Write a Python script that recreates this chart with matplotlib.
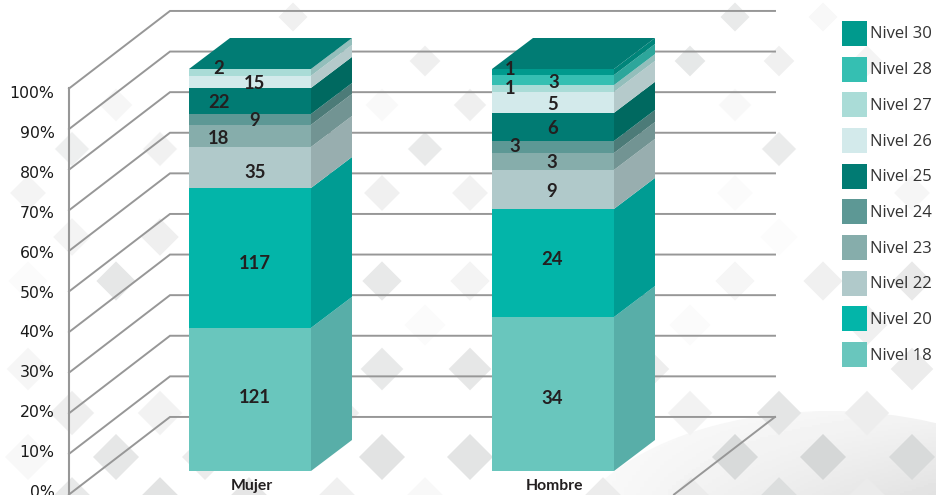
# -*- coding: utf-8 -*-
import numpy as np
import matplotlib
matplotlib.use('Agg')
import matplotlib.pyplot as plt
import matplotlib.patches as patches
import matplotlib.transforms as transforms

CATEGORIES = ['Mujer', 'Hombre']
LEVELS = ['Nivel 18', 'Nivel 20', 'Nivel 22', 'Nivel 23', 'Nivel 24',
          'Nivel 25', 'Nivel 26', 'Nivel 27', 'Nivel 28', 'Nivel 30']

# Printed counts and drawn share (%) per level, bottom to top.
MUJER_COUNTS = [121, 117, 35, 18, 9, 22, 15, 2, None, None]
HOMBRE_COUNTS = [34, 24, 9, 3, 3, 6, 5, 1, 3, 1]
MUJER_PCT = [35.6, 34.8, 10.2, 5.5, 2.7, 6.5, 3.0, 1.7, 0, 0]
HOMBRE_PCT = [38.3, 26.9, 9.7, 4.2, 3.0, 7.0, 5.2, 1.7, 2.5, 1.5]

YTICKS = [0, 10, 20, 30, 40, 50, 60, 70, 80, 90, 100]

FRONT = ['#69c6bd', '#03b5a9', '#b0c9ca', '#86adab', '#5d9895',
         '#017b73', '#d3eaeb', '#aadcd7', '#35bfb2', '#009a8d']
SIDE = ['#58aea8', '#009c93', '#98aeaf', '#729493', '#4c7b78',
        '#006960', '#b5cacb', '#93bebb', '#2da69b', '#00857a']
TOP = '#017c74'

# Label nudges in pixels (dx, dy down), the labels are not centred in the chart.
MUJER_NUDGE = [(5, -2), (5, 6), (5, 5), (-31, 3), (5, 1), (-31, 2), (5, 2), (-31, -4),
               None, None]
HOMBRE_NUDGE = [(-1, 4), (-1, -3), (-1, 2), (-1, 1), (-38, 0), (0, 2), (0, 2),
                (-43, 0), (1, 2), (-43, -3)]

# Background pattern: row y -> (x, gray).
DIAMONDS = {
    17: [(293, '#f0f0f0'), (735, '#e9eaea'), (823, '#f8f8f8')],
    61: [(425, '#efefef'), (690, '#e6e8e8'), (779, '#f0f0f0'), (867, '#f4f4f4')],
    105: [(116, '#f6f6f6'), (382, '#f9f9f9'), (470, '#efefef'), (735, '#f8f8f8')],
    149: [(72, '#eeefef'), (160, '#f1f1f1'), (425, '#e9eaea'), (779, '#eaebeb')],
    193: [(28, '#f4f4f4'), (382, '#f0f0f0'), (470, '#f2f2f2'), (735, '#fbfbfb'),
          (912, '#f6f6f6')],
    237: [(72, '#f4f4f4'), (160, '#efefef'), (779, '#fcfcfc')],
    281: [(28, '#fbfbfb'), (116, '#e6e7e7'), (382, '#e8e9e9'), (470, '#f4f4f4'),
          (735, '#f6f6f6'), (823, '#f0f0f0'), (912, '#e9e9e9')],
    325: [(425, '#fbfbfb'), (690, '#fbfbfb'), (867, '#f0f0f0')],
    369: [(28, '#f6f6f6'), (382, '#e8e9e9'), (470, '#e6e7e7'), (648, '#eeeeee'),
          (912, '#ececec')],
    413: [(72, '#eeeeee'), (160, '#f2f2f2'), (337, '#eeeeee'), (690, '#f2f2f2'),
          (779, '#e4e5e5'), (867, '#ededed')],
    457: [(28, '#f8f8f8'), (116, '#e6e7e7'), (205, '#ececec'), (382, '#e2e3e3'),
          (470, '#e3e4e4'), (735, '#d8dada'), (823, '#d5d7d7'), (912, '#d8dada')],
    501: [(72, '#e8e9e9'), (160, '#e2e3e3'), (249, '#e6e6e6'), (337, '#f0f0f0'),
          (425, '#f8f8f8'), (603, '#ececec'), (691, '#ebebeb'), (779, '#dcdede'),
          (867, '#ebebeb')],
}

FW, FH = 936, 495
GRID = '#979797'
TEXT = '#231f20'

fig = plt.figure(figsize=(FW/100, FH/100), dpi=100, facecolor='white')

# Background and legend, in pixel units.
bg = fig.add_axes([0, 0, 1, 1], zorder=0)
arc = patches.Ellipse((830, 561), 538, 300, transform=bg.transData, fc='none', ec='none')
bg.add_patch(arc)
# shading gets darker to the lower right and fades out to the left
fx = np.linspace(0, 1, 94)[None, :]
fy = np.linspace(0, 1, 42)[:, None]
shade = 0.985 - 0.07*fy*fx - 0.03*fx
im = bg.imshow(shade, cmap='gray', vmin=0, vmax=1, extent=[560, 936, 495, 411],
               aspect='auto', zorder=1)
im.set_clip_path(arc)
for y, sites in DIAMONDS.items():
    half = 14.5 + (y - 17)/440*8.5
    for x, gray in sites:
        bg.add_patch(patches.Polygon([(x-half, y), (x, y-half), (x+half, y), (x, y+half)],
                                     fc=gray, ec='none', zorder=2))
bg.set_xlim(0, FW)
bg.set_ylim(FH, 0)
bg.axis('off')

for i, (name, color) in enumerate(zip(LEVELS[::-1], FRONT[::-1])):
    top = 21 + i*35.67
    bg.add_patch(patches.Rectangle((842, top), 25, 25, fc=color, ec='none', zorder=3))
    bg.text(870, top + 13.5, name, ha='left', va='center', fontsize=12, color='#333333',
            family='Open Sans', zorder=3)

# Walls: 0-100 % from y=494.5 to y=88.5, x in pixels from the axis line.
wall = fig.add_axes([69/FW, 0.5/FH, 706/FW, 406/FH], zorder=1)
wall.patch.set_visible(False)
wall.set_xlim(0, 706)
wall.set_ylim(0, 100)
depth_x, depth_y = 101, 19.1
for v in YTICKS:
    wall.plot([0, depth_x, 706], [v, v+depth_y, v+depth_y], color=GRID, lw=1.4,
              clip_on=False, solid_joinstyle='miter')
wall.plot([depth_x + 504, 706], [0, depth_y], color=GRID, lw=1.4, clip_on=False)
for side in ['top', 'right', 'bottom']:
    wall.spines[side].set_visible(False)
wall.spines['left'].set_color(GRID)
wall.spines['left'].set_linewidth(1.5)
wall.set_xticks([])
wall.set_yticks(YTICKS)
wall.set_yticklabels(['%d%%' % v for v in YTICKS], fontsize=11.3, color='#1a1a1a')
wall.tick_params(axis='y', length=0, pad=14.5*0.72)
# the labels run at a slightly tighter pitch than the grid lines
for v, lab in zip(YTICKS, wall.get_yticklabels()):
    lift = transforms.ScaledTranslation(0, (3.5 - v*0.07)/100, fig.dpi_scale_trans)
    lab.set_transform(lab.get_transform() + lift)

# Bars: x=0 at pixel 250, x=1 at pixel 553, y=0 at 471, y=100 at 69.
ax = fig.add_axes([0, 0, 1, 1], zorder=2)
ax.patch.set_visible(False)
ax.set_xlim(-250/303, 1 + 383/303)
ax.set_ylim(-24/4.02, 100 + 69/4.02)
ax.axis('off')

width = 122/303
dx, dy = 41/303, 31/4.02
series = [(MUJER_PCT, MUJER_COUNTS, MUJER_NUDGE), (HOMBRE_PCT, HOMBRE_COUNTS, HOMBRE_NUDGE)]
for pos, (pct, counts, nudge) in enumerate(series):
    bottom = 0
    right = pos + width/2
    for i, h in enumerate(pct):
        if h == 0:
            continue
        ax.bar(pos, h, width=width, bottom=bottom, color=FRONT[i], linewidth=0)
        ax.add_patch(patches.Polygon([(right, bottom), (right, bottom+h),
                                      (right+dx, bottom+h+dy), (right+dx, bottom+dy)],
                                     fc=SIDE[i], ec='none'))
        ox, oy = nudge[i]
        ax.annotate(str(counts[i]), (pos, bottom + h/2), xytext=(ox*0.72, -oy*0.72),
                    textcoords='offset points', ha='center', va='center', fontsize=13.3,
                    fontweight='bold', family='Lato', color=TEXT, zorder=5)
        bottom += h
    left = pos - width/2
    ax.add_patch(patches.Polygon([(left, bottom), (left+dx, bottom+dy),
                                  (right+dx, bottom+dy), (right, bottom)],
                                 fc=TOP, ec='none'))
    ax.annotate(CATEGORIES[pos], (pos, 0), xytext=(1, -11*0.72 - 3), textcoords='offset points',
                ha='center', va='center', fontsize=11.3, fontweight='bold', family='Lato',
                color=TEXT)

fig.savefig('out.png', dpi=100)
